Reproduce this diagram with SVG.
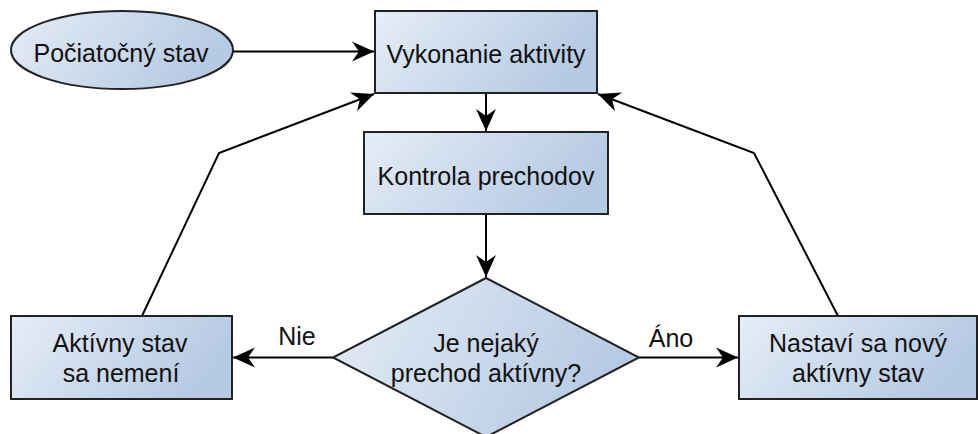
<svg xmlns="http://www.w3.org/2000/svg" width="978" height="434" viewBox="0 0 978 434">
<style>
.node{stroke:#222;stroke-width:2;fill:url(#g)}
.lbl{font-family:"Liberation Sans",Arial,sans-serif;font-size:25px;fill:#111;text-anchor:middle}
.conn{fill:none;stroke:#000;stroke-width:2;marker-end:url(#arr)}
</style>
<defs>
<linearGradient id="g" x1="0" y1="0" x2="1" y2="0.3">
<stop offset="0" stop-color="#e6edf7"/>
<stop offset="1" stop-color="#b6cae3"/>
</linearGradient>
<marker id="arr" markerUnits="userSpaceOnUse" markerWidth="24" markerHeight="22" viewBox="-23 -11 24 22" refX="0" refY="0" orient="auto">
<path d="M0,0 L-22,-10 L-15,0 L-22,10 Z" fill="#000"/>
</marker>
</defs>
<g id="connectors">
<path class="conn" d="M233,51.5 L374,51.5"/>
<path class="conn" d="M486,93 L486,131"/>
<path class="conn" d="M486,214 L486,277"/>
<path class="conn" d="M333,357.5 L233,357.5"/>
<path class="conn" d="M639,357.5 L738,357.5"/>
<path class="conn" d="M142,316 L219,153 L374,94"/>
<path class="conn" d="M838,316 L754,153 L598,94"/>
</g>
<text class="lbl" x="297" y="345">Nie</text>
<text class="lbl" x="671" y="347">Áno</text>
<g id="start">
<ellipse class="node" cx="122" cy="50" rx="111" ry="39"/>
<text class="lbl" x="121" y="62">Počiatočný stav</text>
</g>
<g id="vykonanie">
<rect class="node" x="375" y="11" width="222" height="82"/>
<text class="lbl" x="486" y="63">Vykonanie aktivity</text>
</g>
<g id="kontrola">
<rect class="node" x="364" y="132" width="244" height="82"/>
<text class="lbl" x="486" y="185">Kontrola prechodov</text>
</g>
<g id="decision">
<path class="node" d="M486,278 L639,357.5 L486,437 L333,357.5 Z"/>
<text class="lbl" x="486" y="351.7">Je nejaký</text>
<text class="lbl" x="486" y="381.7">prechod aktívny?</text>
</g>
<g id="nemeni">
<rect class="node" x="11" y="316" width="221" height="83"/>
<text class="lbl" x="120" y="351.7">Aktívny stav</text>
<text class="lbl" x="121" y="381.7">sa nemení</text>
</g>
<g id="novy">
<rect class="node" x="739" y="316" width="238" height="83"/>
<text class="lbl" x="858" y="351.7">Nastaví sa nový</text>
<text class="lbl" x="858" y="381.7">aktívny stav</text>
</g>
</svg>
